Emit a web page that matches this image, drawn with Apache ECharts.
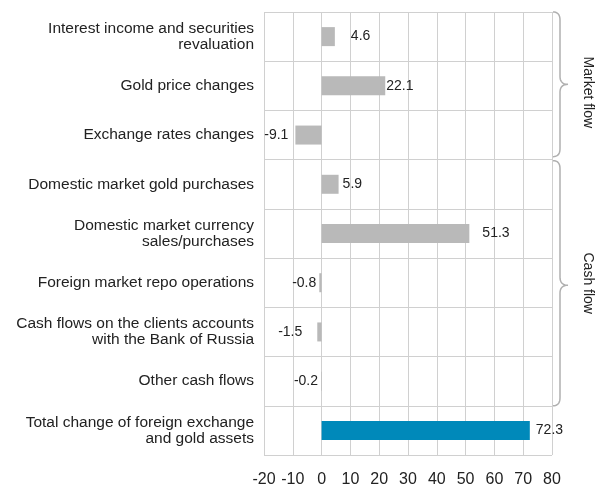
<!DOCTYPE html>
<html>
<head>
<meta charset="utf-8">
<script src="https://cdn.jsdelivr.net/npm/echarts@6/dist/echarts.min.js"></script>
<style>
html,body{margin:0;padding:0;background:#fff;}
#chart{width:603px;height:488px;}
</style>
</head>
<body>
<div id="chart"></div>
<script>
var categories = [
  "Interest income and securities\nrevaluation",
  "Gold price changes",
  "Exchange rates changes",
  "Domestic market gold purchases",
  "Domestic market currency\nsales/purchases",
  "Foreign market repo operations",
  "Cash flows on the clients accounts\nwith the Bank of Russia",
  "Other cash flows",
  "Total change of foreign exchange\nand gold assets"
];
var values = [4.6, 22.1, -9.1, 5.9, 51.3, -0.8, -1.5, -0.2, 72.3];
var xTicks = [-20, -10, 0, 10, 20, 30, 40, 50, 60, 70, 80];
var groups = [
  { name: "Market flow", from: 0, to: 2 },
  { name: "Cash flow", from: 3, to: 7 }
];

// styling (not data)
var labelGap = [16, 1, 7, 4, 13, 3, 15, 3, 6];
var grey = "#b9b9b9", blue = "#0089ba", gridCol = "#d0d0d0";
var fontFam = "'Liberation Sans', Arial, sans-serif";

var chart = echarts.init(document.getElementById('chart'));

var seriesData = values.map(function (v, i) {
  return {
    value: v,
    itemStyle: { color: i === values.length - 1 ? blue : grey },
    label: { position: v >= 0 ? 'right' : 'left', distance: labelGap[i] }
  };
});

chart.setOption({
  animation: false,
  grid: { left: 264, right: 51, top: 12, bottom: 31, containLabel: false },
  xAxis: {
    type: 'value',
    min: xTicks[0], max: xTicks[xTicks.length - 1], interval: 10,
    axisLine: { show: false }, axisTick: { show: false },
    splitLine: { show: true, lineStyle: { color: gridCol, width: 1 } },
    axisLabel: { color: '#222', fontSize: 16, fontFamily: fontFam, margin: 17 }
  },
  yAxis: {
    type: 'category', inverse: true, data: categories,
    axisLine: { show: false }, axisTick: { show: false },
    splitLine: { show: true, lineStyle: { color: gridCol, width: 1 } },
    axisLabel: { color: '#222', fontSize: 15.5, fontFamily: fontFam, margin: 10, lineHeight: 16, align: 'right' }
  },
  series: [{
    type: 'bar', data: seriesData, barWidth: 19,
    label: {
      show: true, color: '#222', fontSize: 14, fontFamily: fontFam,
      formatter: function (p) { return p.value.toFixed(1); }
    }
  }]
});

function quad(pts, p0, c, p1) {
  for (var t = 0.1; t <= 1.0001; t += 0.1) {
    var a = (1 - t) * (1 - t), b = 2 * (1 - t) * t, d = t * t;
    pts.push([a * p0[0] + b * c[0] + d * p1[0], a * p0[1] + b * c[1] + d * p1[1]]);
  }
}

function buildBraces() {
  var gridRight = chart.convertToPixel({ gridIndex: 0 }, [xTicks[xTicks.length - 1], 0])[0];
  var step = chart.convertToPixel({ yAxisIndex: 0 }, 1) - chart.convertToPixel({ yAxisIndex: 0 }, 0);
  var elems = [];
  groups.forEach(function (g, gi) {
    var y1 = chart.convertToPixel({ yAxisIndex: 0 }, g.from) - step / 2 + (gi === 0 ? 0 : 1);
    var y2 = chart.convertToPixel({ yAxisIndex: 0 }, g.to) + step / 2 - (gi === 0 ? 3 : 0);
    var ym = (y1 + y2) / 2 + (gi === 0 ? 0 : 2);
    var x0 = gridRight + 1, x1 = x0 + 7, x2 = x0 + 15, r = 8;
    var pts = [[x0, y1]];
    quad(pts, [x0, y1], [x1, y1], [x1, y1 + r]);
    pts.push([x1, ym - r]);
    quad(pts, [x1, ym - r], [x1, ym], [x2, ym]);
    quad(pts, [x2, ym], [x1, ym], [x1, ym + r]);
    pts.push([x1, y2 - r]);
    quad(pts, [x1, y2 - r], [x1, y2], [x0, y2]);
    elems.push({
      type: 'polyline', shape: { points: pts },
      style: { fill: null, stroke: '#b0b0b0', lineWidth: 1.5 }
    });
    elems.push({
      type: 'text', x: x0 + 35, y: ym + (gi === 0 ? 8 : -2), rotation: -Math.PI / 2,
      style: { text: g.name, fill: '#222', fontSize: 14, fontFamily: fontFam, align: 'center', verticalAlign: 'middle' }
    });
  });
  chart.setOption({ graphic: elems });
}
buildBraces();
</script>
</body>
</html>
